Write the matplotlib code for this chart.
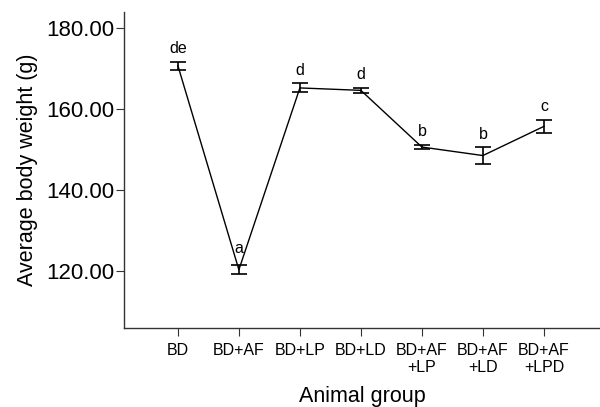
import numpy as np
import matplotlib.pyplot as plt

plt.rcParams['font.family'] = ['Liberation Sans', 'DejaVu Sans']

groups = ['BD', 'BD+AF', 'BD+LP', 'BD+LD', 'BD+AF\n+LP', 'BD+AF\n+LD', 'BD+AF\n+LPD']
means = [170.8, 120.4, 165.3, 164.7, 150.7, 148.6, 155.8]
errors = [1.0, 1.1, 1.1, 0.6, 0.6, 2.0, 1.6]
letters = ['de', 'a', 'd', 'd', 'b', 'b', 'c']

fig = plt.figure(figsize=(6, 4.07), dpi=100)
ax = fig.add_axes([0.207, 0.194, 0.793, 0.776])

x = np.arange(1, len(groups) + 1)
ax.errorbar(x, means, yerr=errors, color='black', linewidth=1.0,
            elinewidth=1.2, capsize=6, capthick=1.2)

# letters above each error bar ('a' sits a bit higher, inside the V)
for xi, m, e, t in zip(x, means, errors, letters):
    off = 2.4 if t == 'a' else 1.4
    ax.text(xi, m + e + off, t, ha='center', va='bottom', fontsize=11.5)

ax.set_xlim(0.12, 7.92)
ax.set_ylim(106, 184)
ax.set_yticks([120, 140, 160, 180])
ax.set_yticklabels(['%.2f' % v for v in [120, 140, 160, 180]], fontsize=16)
ax.set_xticks(x)
ax.set_xticklabels(groups, fontsize=11.5, linespacing=1.1)

for s in ['top', 'right']:
    ax.spines[s].set_visible(False)
for s in ['left', 'bottom']:
    ax.spines[s].set_color('#333333')
    ax.spines[s].set_linewidth(1.0)
ax.tick_params(axis='both', direction='out', length=6, color='#333333')
ax.tick_params(axis='x', pad=5)
ax.tick_params(axis='y', pad=1)

ax.set_ylabel('Average body weight (g)', fontsize=15.5, labelpad=6)
ax.set_xlabel('Animal group', fontsize=15.5, labelpad=8)

fig.savefig('out.png', dpi=100)
